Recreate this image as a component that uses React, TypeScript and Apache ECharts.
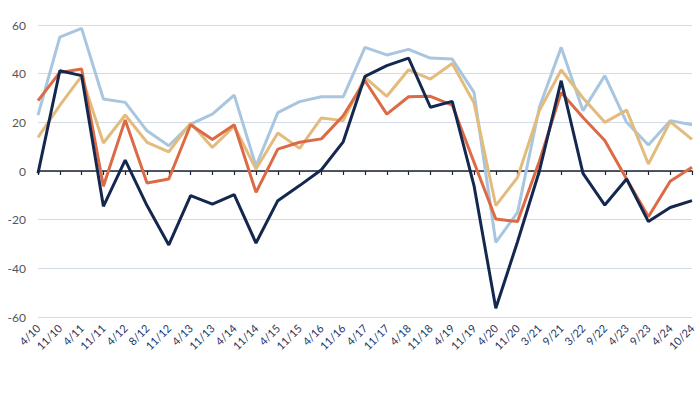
import React, { useEffect, useRef } from "react";
import * as echarts from "echarts";

const categories = ["4/10","11/10","4/11","11/11","4/12","8/12","11/12","4/13","11/13","4/14","11/14","4/15","11/15","4/16","11/16","4/17","11/17","4/18","11/18","4/19","11/19","4/20","11/20","3/21","9/21","3/22","9/22","4/23","9/23","4/24","10/24"];

const lightBlue = [23,55,58.6,29.6,28.2,16.5,10.4,19.3,23.4,31.2,2,24,28.5,30.5,30.5,50.8,47.7,50,46.4,46,32.3,-29.3,-17,26.2,50.8,24.8,39.2,20,10.7,20.7,19];
const tan = [13.8,27,39,11.5,23,11.8,7.9,19.7,9.7,18.4,0.8,15.6,9.3,21.8,20.7,38.5,30.7,41.6,37.8,44.2,28,-14.2,-2.6,24.8,41.5,30,20,25,2.9,20.3,13];
const orange = [28.9,40.5,41.9,-6.3,21,-4.9,-3.3,19,12.9,19,-8.8,9,11.8,13.2,22.7,37.1,23.4,30.5,30.7,27.1,3.6,-19.7,-20.8,4,32.3,22,12.5,-3.3,-18.8,-4.2,1.5];
const navy = [-1,41.2,39.2,-14.5,4.5,-14.2,-30.4,-10.1,-13.6,-9.7,-29.6,-12.2,-6,0.5,12,38.9,43.3,46.4,26.2,28.6,-6,-56.4,-29,0,37.1,-1,-14,-3.3,-20.8,-15,-12.2];

const yTicks = { min: -60, max: 60, interval: 20 };

export default function App() {
  const ref = useRef<HTMLDivElement>(null);
  useEffect(() => {
    if (!ref.current) return;
    const chart = echarts.init(ref.current, null, { renderer: "svg" });
    const mk = (name: string, data: number[], color: string, z: number) => ({
      name,
      type: "line",
      data,
      symbol: "none",
      z,
      lineStyle: { color, width: 3 },
      itemStyle: { color },
    });
    chart.setOption({
      animation: false,
      backgroundColor: "#ffffff",
      grid: { left: 38, right: 8, top: 25, bottom: 77, containLabel: false },
      xAxis: [
        {
          type: "category",
          data: categories,
          boundaryGap: false,
          position: "bottom",
          axisLine: { show: false, onZero: false },
          axisTick: { show: false },
          splitLine: { show: false },
          axisLabel: {
            interval: 0,
            rotate: 45,
            margin: 9,
            color: "#1f3864",
            fontSize: 11,
            fontFamily: "Lato",
          },
        },
        {
          type: "category",
          data: categories,
          boundaryGap: false,
          position: "bottom",
          axisLine: { show: true, onZero: true, lineStyle: { color: "#1a2233", width: 1.5 } },
          axisTick: { show: true, interval: 0, length: 4, lineStyle: { color: "#1a2233", width: 1.2 } },
          axisLabel: { show: false },
          splitLine: { show: false },
        },
      ],
      yAxis: {
        type: "value",
        min: yTicks.min,
        max: yTicks.max,
        interval: yTicks.interval,
        axisLine: { show: false },
        axisTick: { show: false },
        axisLabel: { color: "#555555", fontSize: 12, margin: 12, fontFamily: "Lato" },
        splitLine: { show: true, lineStyle: { color: "#d3dbe7", width: 1 } },
      },
      series: [
        mk("Light blue", lightBlue, "#a8c6e0", 2),
        mk("Tan", tan, "#e2bb7d", 3),
        mk("Orange", orange, "#dc6a45", 4),
        mk("Navy", navy, "#14284f", 5),
      ],
    });
    return () => chart.dispose();
  }, []);
  return <div ref={ref} style={{ width: 700, height: 394, position: "absolute", left: 0, top: 0 }} />;
}
